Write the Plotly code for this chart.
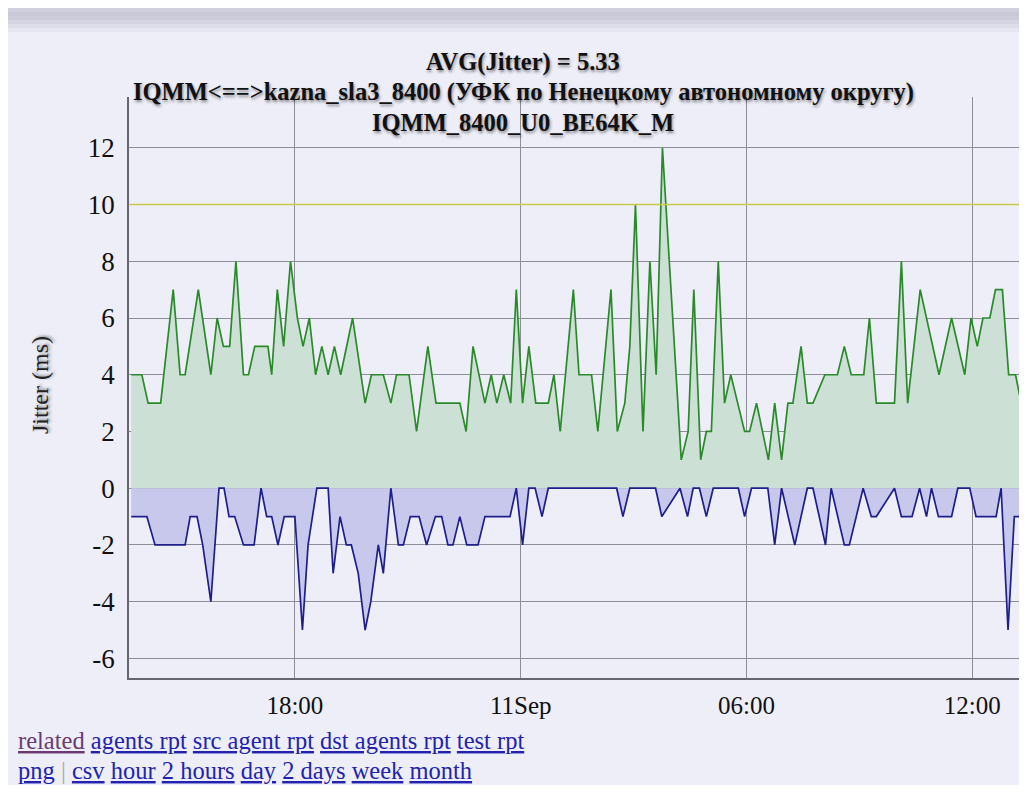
import pandas as pd
import plotly.graph_objects as go

# ---------------- data ----------------
BASE_DATE = "2013-09-10"

# sample times in minutes after 2013-09-10 00:00, with the jitter values (ms)
green_minutes = [819, 836, 846, 866, 886, 897, 905, 926, 946, 956, 966, 976, 986, 998, 1006,
                 1016, 1037, 1043, 1052, 1062, 1073, 1084, 1093, 1103, 1113, 1123, 1133, 1143,
                 1153, 1172, 1192, 1202, 1221, 1233, 1242, 1262, 1274, 1292, 1305, 1343, 1353,
                 1364, 1383, 1393, 1402, 1413, 1424, 1433, 1443, 1453, 1464, 1484, 1493, 1503,
                 1524, 1533, 1553, 1563, 1584, 1594, 1606, 1614, 1623, 1635, 1646, 1656, 1666,
                 1696, 1707, 1716, 1727, 1736, 1744, 1755, 1765, 1775, 1786, 1797, 1805, 1816,
                 1835, 1845, 1856, 1866, 1874, 1887, 1897, 1906, 1925, 1945, 1956, 1967, 1987,
                 1996, 2007, 2036, 2047, 2057, 2077, 2107, 2127, 2148, 2158, 2168, 2177, 2188,
                 2197, 2208, 2218, 2229, 2238]
green_values = [4, 4, 3, 3, 7, 4, 4, 7, 4, 6, 5, 5, 8, 4, 4,
                5, 5, 4, 7, 5, 8, 6, 5, 6, 4, 5, 4, 5,
                4, 6, 3, 4, 4, 3, 4, 4, 2, 5, 3, 3, 2,
                5, 3, 4, 3, 4, 3, 7, 3, 5, 3, 3, 4, 2,
                7, 4, 4, 2, 7, 2, 3, 5, 10, 2, 8, 4, 12,
                1, 2, 7, 1, 2, 2, 8, 3, 4, 3, 2, 2, 3,
                1, 3, 1, 3, 3, 5, 3, 3, 4, 4, 5, 4, 4,
                6, 3, 3, 8, 3, 7, 4, 6, 4, 6, 5, 6, 6,
                7, 7, 4, 4, 3]

blue_minutes = [819, 844, 857, 905, 913, 924, 933, 946, 959, 967, 975, 984, 998, 1015, 1026,
                1035, 1043, 1053, 1063, 1080, 1092, 1101, 1115, 1133, 1141, 1152, 1162, 1170,
                1181, 1192, 1201, 1213, 1221, 1233, 1245, 1253, 1264, 1278, 1290, 1304, 1314,
                1324, 1332, 1343, 1354, 1372, 1383, 1423, 1433, 1443, 1453, 1463, 1474, 1484,
                1593, 1603, 1614, 1655, 1665, 1694, 1706, 1715, 1725, 1736, 1747, 1787, 1797,
                1808, 1834, 1845, 1856, 1877, 1897, 1906, 1926, 1935, 1956, 1964, 1986, 1999,
                2007, 2036, 2047, 2064, 2076, 2087, 2095, 2106, 2127, 2137, 2156, 2166, 2198,
                2206, 2217, 2227, 2238]
blue_values = [-1, -1, -2, -2, -1, -1, -2, -4, 0, 0, -1, -1, -2, -2, 0,
               -1, -1, -2, -1, -1, -5, -2, 0, 0, -3, -1, -2, -2,
               -3, -5, -4, -2, -3, 0, -2, -2, -1, -1, -2, -1, -1,
               -2, -2, -1, -2, -2, -1, -1, 0, -2, 0, 0, -1, 0,
               0, -1, 0, 0, -1, 0, -1, 0, 0, -1, 0, 0, -1,
               0, 0, -2, 0, -2, 0, 0, -2, 0, -2, -2, 0, -1,
               -1, 0, -1, -1, 0, -1, 0, -1, -1, 0, 0, -1, -1,
               0, -5, -1, -1]

THRESHOLD = 10
X_RANGE_MINUTES = [815.5, 2234.5]
Y_RANGE = [-6.69, 13.79]
Y_TICKS = [-6, -4, -2, 0, 2, 4, 6, 8, 10, 12]
Y_TICK_TEXT = ["-6", "-4", "-2", "0", "2", "4", "6", "8", "10", "12"]
X_TICK_MINUTES = [1080, 1440, 1800, 2160]
X_TICK_TEXT = ["18:00", "11Sep", "06:00", "12:00"]

TITLE_LINES = ["AVG(Jitter) = 5.33",
               "IQMM&lt;==&gt;kazna_sla3_8400 (УФК по Ненецкому автономному округу)",
               "IQMM_8400_U0_BE64K_M"]
Y_TITLE = "Jitter (ms)"
LINKS_ROW1 = ["related", "agents rpt", "src agent rpt", "dst agents rpt", "test rpt"]
LINKS_ROW2 = ["png", "|", "csv", "hour", "2 hours", "day", "2 days", "week", "month"]

# ---------------- build ----------------
base = pd.Timestamp(BASE_DATE)
def to_time(mins):
    return [base + pd.Timedelta(minutes=float(m)) for m in mins]

BG = "#EEEEF8"
SERIF = "Liberation Serif, Times New Roman, serif"

fig = go.Figure()
fig.add_trace(go.Scatter(x=to_time(green_minutes), y=green_values, mode="lines",
                         line=dict(color="#2A8A2A", width=1.7),
                         fill="tozeroy", fillcolor="#CCE0D6", showlegend=False))
fig.add_trace(go.Scatter(x=to_time(blue_minutes), y=blue_values, mode="lines",
                         line=dict(color="#1E1E8C", width=1.7),
                         fill="tozeroy", fillcolor="#C8C8EC", showlegend=False))
fig.add_trace(go.Scatter(x=to_time(X_RANGE_MINUTES), y=[THRESHOLD, THRESHOLD], mode="lines",
                         line=dict(color="#CACA4A", width=1.5), showlegend=False))

# page has an 8px body margin; figure occupies page x 8..1019, y 8..785
OFF = 8
W, H = 1011, 777
ML, MR, MT, MB = 121, 0, 89, 107
PW, PH = W - ML - MR, H - MT - MB

def px(x):  # page x -> paper
    return (x - OFF - ML) / PW
def py(y):  # page y -> paper
    return (H - MB - (y - OFF)) / PH

shadow = "1px 2px 3px rgba(0,0,0,0.45)"
title_y = [62, 92, 122]
for txt, yy in zip(TITLE_LINES, title_y):
    fig.add_annotation(text=f"<b>{txt}</b>", xref="paper", yref="paper",
                       x=px(523), y=py(yy), xanchor="center", yanchor="middle",
                       showarrow=False,
                       font=dict(family=SERIF, size=24.5, color="#111111", shadow=shadow))

fig.add_annotation(text=Y_TITLE, xref="paper", yref="paper", x=px(40), y=py(385),
                   textangle=-90, showarrow=False, xanchor="center", yanchor="middle",
                   font=dict(family=SERIF, size=24, color="#222222", shadow=shadow))

def link_html(items):
    parts = []
    for it in items:
        if it == "|":
            parts.append("<span style='color:#AAAAAA'>|</span>")
        elif it == "related":
            parts.append(f"<span style='color:#6A3A72'><u>{it}</u></span>")
        else:
            parts.append(f"<span style='color:#2323B0'><u>{it}</u></span>")
    return " ".join(parts)

fig.add_annotation(text=link_html(LINKS_ROW1), xref="paper", yref="paper",
                   x=px(16), y=py(740), xanchor="left", yanchor="middle", showarrow=False,
                   font=dict(family=SERIF, size=24.5, color="#2323B0"))
fig.add_annotation(text=link_html(LINKS_ROW2), xref="paper", yref="paper",
                   x=px(16), y=py(771), xanchor="left", yanchor="middle", showarrow=False,
                   font=dict(family=SERIF, size=24.5, color="#2323B0"))

# top gradient band (page y 8..32)
band = [(8, 12, "#CFCFDD"), (12, 16, "#C8C8D7"), (16, 20, "#CCCCDB"), (20, 24, "#D5D5E2"),
        (24, 28, "#DEDEEA"), (28, 32, "#E6E6F1")]
for y0, y1, c in band:
    fig.add_shape(type="rect", xref="paper", yref="paper", x0=px(8), x1=px(1027),
                  y0=py(y1), y1=py(y0), fillcolor=c, line_width=0, layer="below")

fig.update_layout(
    width=W, height=H,
    margin=dict(l=ML, r=MR, t=MT, b=MB, pad=0),
    paper_bgcolor=BG, plot_bgcolor=BG,
    showlegend=False,
    font=dict(family=SERIF, size=25, color="#111111"),
)
fig.update_xaxes(range=to_time(X_RANGE_MINUTES), tickvals=to_time(X_TICK_MINUTES),
                 ticktext=X_TICK_TEXT, showgrid=True, gridcolor="#8E8E98", gridwidth=1,
                 showline=True, linecolor="#666670", linewidth=1.5, zeroline=False,
                 ticks="", ticklabelstandoff=4, tickfont=dict(family=SERIF, size=25))
fig.update_yaxes(range=Y_RANGE, tickvals=Y_TICKS, ticktext=Y_TICK_TEXT, showgrid=True,
                 gridcolor="#8E8E98", gridwidth=1, showline=True, linecolor="#666670",
                 linewidth=1.5, zeroline=False, ticks="", ticklabelstandoff=7,
                 tickfont=dict(family=SERIF, size=27))

fig.write_html("out.html")
